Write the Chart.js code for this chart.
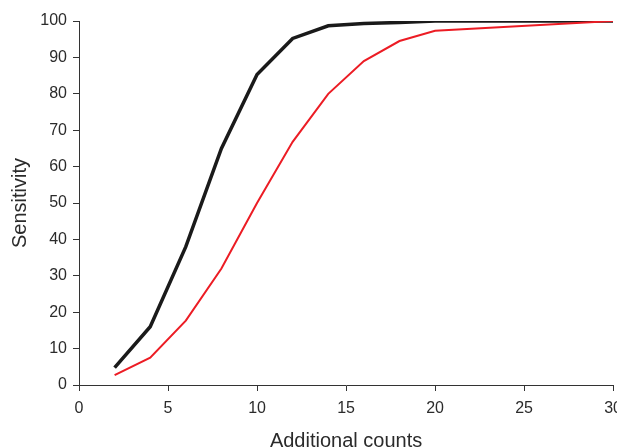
<!DOCTYPE html>
<html>
<head>
<meta charset="utf-8">
<script src="https://cdn.jsdelivr.net/npm/chart.js@4.4.1/dist/chart.umd.min.js"></script>
<style>
    html, body { margin: 0; padding: 0; background: #fff; overflow: hidden; }
    #sensitivity-chart { display: block; }
</style>
</head>
<body>
<canvas id="sensitivity-chart" width="630" height="460" style="width:630px;height:460px"></canvas>
<script>
// Additional counts (x) and sensitivity (%) for both curves
const counts = [2, 4, 6, 8, 10, 12, 14, 16, 18, 20, 30];
const blackSeries = [4.8, 16, 38, 65, 85.3, 95.2, 98.7, 99.3, 99.6, 100, 100];
const redSeries = [2.7, 7.5, 17.7, 32, 50, 66.8, 80, 89, 94.5, 97.3, 100];
const xTicks = [0, 5, 10, 15, 20, 25, 30];
const yTicks = [0, 10, 20, 30, 40, 50, 60, 70, 80, 90, 100];

const textColor = "#2b2b2b";
const axisColor = "#333333";

function toPoints(values) {
    return counts.map((x, i) => ({ x: x, y: values[i] }));
}

function initializeChart() {
    const canvas = document.getElementById("sensitivity-chart");
    if (!canvas) {
        console.error("Canvas element not found!");
        return;
    }

    const config = {
        type: "line",
        data: {
            datasets: [
                {
                    label: "Red",
                    data: toPoints(redSeries),
                    borderColor: "#ec1c24",
                    borderWidth: 2,
                    pointRadius: 0,
                    tension: 0,
                    fill: false,
                },
                {
                    label: "Black",
                    data: toPoints(blackSeries),
                    borderColor: "#1a1a1a",
                    borderWidth: 3.5,
                    pointRadius: 0,
                    tension: 0,
                    fill: false,
                },
            ],
        },
        options: {
            responsive: false,
            animation: false,
            layout: { padding: { top: 21, right: 12, left: 0, bottom: 0 } },
            plugins: {
                legend: { display: false },
                tooltip: { enabled: false },
            },
            scales: {
                x: {
                    type: "linear",
                    min: xTicks[0],
                    max: xTicks[xTicks.length - 1],
                    afterBuildTicks: (scale) => {
                        scale.ticks = xTicks.map((v) => ({ value: v }));
                    },
                    afterFit: (scale) => {
                        scale.height = 75;
                    },
                    grid: {
                        drawOnChartArea: false,
                        drawTicks: true,
                        tickLength: 6,
                        color: axisColor,
                    },
                    border: { display: true, color: axisColor, width: 1 },
                    ticks: {
                        color: textColor,
                        padding: 8,
                        maxRotation: 0,
                        font: { family: "'Liberation Sans', Arial, sans-serif", size: 16 },
                    },
                    title: {
                        display: true,
                        text: "Additional counts",
                        color: textColor,
                        padding: { top: 0, bottom: 7 },
                        font: { family: "'Liberation Sans', Arial, sans-serif", size: 20 },
                    },
                },
                y: {
                    type: "linear",
                    min: yTicks[0],
                    max: yTicks[yTicks.length - 1],
                    afterBuildTicks: (scale) => {
                        scale.ticks = yTicks.map((v) => ({ value: v }));
                    },
                    afterFit: (scale) => {
                        scale.width = 79;
                    },
                    grid: {
                        drawOnChartArea: false,
                        drawTicks: true,
                        tickLength: 6,
                        color: axisColor,
                    },
                    border: { display: true, color: axisColor, width: 1 },
                    ticks: {
                        color: textColor,
                        padding: 6,
                        font: { family: "'Liberation Sans', Arial, sans-serif", size: 16 },
                    },
                    title: {
                        display: true,
                        text: "Sensitivity",
                        color: textColor,
                        padding: { top: 8, bottom: 0 },
                        font: { family: "'Liberation Sans', Arial, sans-serif", size: 20 },
                    },
                },
            },
        },
    };

    canvas.chart = new Chart(canvas, config);
}

document.addEventListener("DOMContentLoaded", initializeChart);
</script>
</body>
</html>
